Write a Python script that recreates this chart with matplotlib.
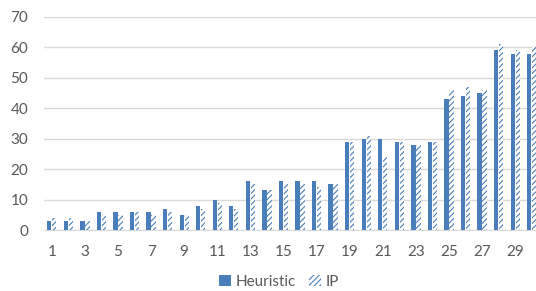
import matplotlib.pyplot as plt
import numpy as np

plt.rcParams["font.family"] = ["Lato", "DejaVu Sans"]
plt.rcParams["hatch.color"] = "#4a7ebb"
plt.rcParams["hatch.linewidth"] = 0.8

categories = list(range(1, 31))
heuristic = [3, 3, 3, 6, 6, 6, 6, 7, 5, 8, 10, 8, 16, 13, 16, 16, 16, 15,
             29, 30, 30, 29, 28, 29, 43, 44, 45, 59, 58, 58]
ip = [4, 4, 3, 5, 5, 6, 5, 6, 5, 7, 9, 7, 15, 13, 15, 15, 14, 15,
      29, 31, 24, 29, 28, 29, 46, 47, 46, 61, 59, 60]
y_ticks = [0, 10, 20, 30, 40, 50, 60, 70]

BLUE = "#4a7ebb"
GREY = "#595959"

W, H = 536, 291
fig = plt.figure(figsize=(W / 100, H / 100), dpi=100)
left, right = 43.5 / W, 540 / W
bottom, top = (H - 230) / H, (H - 17) / H
ax = fig.add_axes([left, bottom, right - left, top - bottom])

x = np.arange(len(categories))
bw = 0.26
off = 0.15
ax.bar(x - off, heuristic, width=bw, color=BLUE, label="Heuristic", zorder=3)
ax.bar(x + off, ip, width=bw, color="white", edgecolor=BLUE, linewidth=0,
       hatch="//////", label="IP", zorder=3)

ax.set_xlim(-0.5, len(categories) - 0.5)
ax.set_ylim(0, 70)
ax.set_yticks(y_ticks)
ax.set_xticks(x[::2])
ax.set_xticklabels([str(c) for c in categories[::2]])
ax.yaxis.grid(True, color="#d9d9d9", linewidth=1, zorder=0)
for s in ["top", "right", "left"]:
    ax.spines[s].set_visible(False)
ax.spines["bottom"].set_color("#d9d9d9")
ax.tick_params(axis="both", length=0, labelsize=11, colors=GREY)
ax.tick_params(axis="y", pad=11)
ax.tick_params(axis="x", pad=11)

leg = fig.legend(loc="center", bbox_to_anchor=(279 / W, (H - 282) / H), ncol=2,
                 frameon=False, fontsize=11, handlelength=0.75, handleheight=0.75,
                 handletextpad=0.3, columnspacing=0.9, borderaxespad=0,
                 borderpad=0)
for t in leg.get_texts():
    t.set_color(GREY)

fig.savefig("out.png", dpi=100)
